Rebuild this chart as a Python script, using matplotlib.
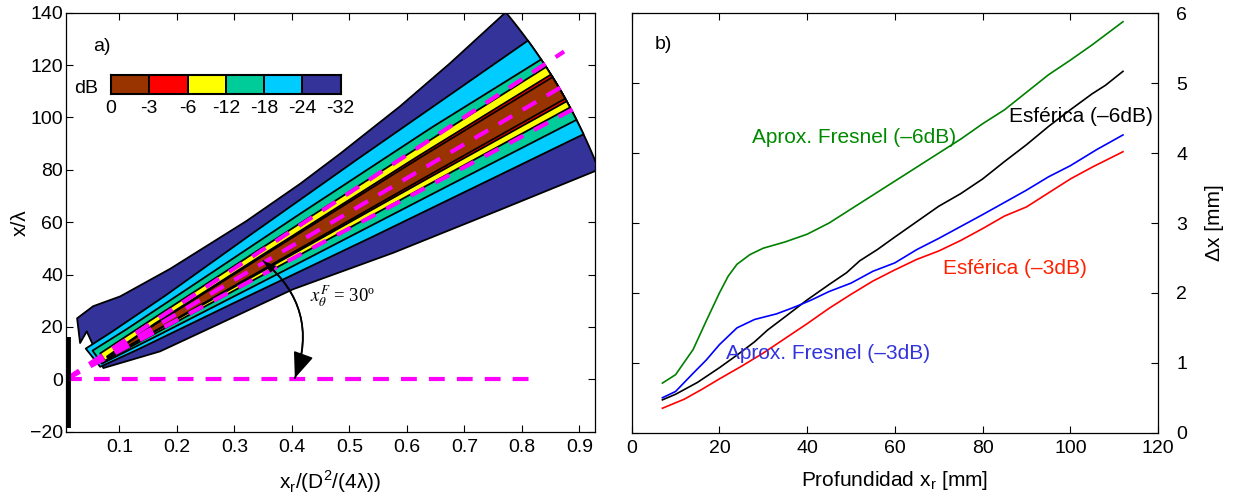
import numpy as np
import matplotlib.pyplot as plt
from matplotlib.patches import FancyArrowPatch
from matplotlib.colors import ListedColormap

plt.rcParams['font.family'] = ['Liberation Sans', 'DejaVu Sans']
plt.rcParams['font.size'] = 14
plt.rcParams['axes.linewidth'] = 0.9

# ---------------- a) campo en dB ----------------
db_labels = ['0', '-3', '-6', '-12', '-18', '-24', '-32']
band_colors = ['#993300', '#FF0000', '#FFFF00', '#00CC99', '#00CCFF', '#333399']

X0 = 0.007        # posicion del transductor en x_r/(D^2/(4 lambda))
SCALE = 220.0     # D^2/(4 lambda) en longitudes de onda
RHO_MAX = 219.0   # alcance maximo calculado (lambda)

# limites de cada banda: [alcance (lambda)], [angulo (grados)]
m32_up = [[23.7, 29.8, 37.9, 58.1, 91.7, 116.7, 135.7, 165, 190.2, 219],
          [79.5, 69.5, 56.7, 46.6, 41.2, 39.8, 39.4, 39.2, 39.4, 39.8]]
m32_lo = [[15, 37.6, 62.8, 93.5, 134.2, 178.3, 218], [16.7, 16.5, 19.9, 21.6, 21.1, 21.3, 21.45]]
m32_left = [[20, 14.9], [66.4, 68.5]]
m24_up = [[14, 25, 50, 90, 140, 219], [57, 46, 40.0, 38.0, 37.0, 36.2]]
m24_lo = [[14, 30, 70, 130, 219], [20, 22.5, 24.4, 24.9, 25.3]]
m18_up = [[15, 30, 60, 110, 170, 219], [47, 39.5, 36.5, 35.2, 34.5, 33.9]]
m18_lo = [[15, 40, 90, 160, 219], [23.5, 25.5, 26.4, 26.8, 26.9]]
m12_up = [[16.5, 40, 90, 160, 219], [37, 34.8, 33.8, 33.3, 33.0]]
m12_lo = [[16.5, 40, 90, 160, 219], [25.5, 27.2, 27.9, 28.2, 28.3]]
m6_up = [[18, 40, 90, 160, 219], [29, 32.0, 32.3, 32.3, 32.1]]
m6_lo = [[18, 40, 90, 160, 219], [27, 28.2, 28.8, 29.0, 29.0]]
m3_up = [[20, 40, 90, 160, 219], [29, 31.6, 32.0, 32.0, 31.8]]
m3_lo = [[20, 40, 90, 160, 219], [27.5, 28.5, 29.1, 29.3, 29.3]]

# ejes de los haces (grados, alcance en lambda)
beam_ang = [33.3, 30.5, 28.0]
beam_len = [228, 223, 223]
horiz_end = 0.818

# ---------------- b) anchura del haz ----------------
green_x = [7, 10, 14, 17, 20, 22, 24, 27, 30, 35, 40, 45, 50, 55, 60, 65, 70, 75, 80, 85, 90, 95, 100, 105, 112]
green_y = [0.71, 0.83, 1.19, 1.6, 2.0, 2.24, 2.41, 2.55, 2.64, 2.73, 2.84, 3.0, 3.2, 3.4, 3.6, 3.8, 4.0, 4.2, 4.42, 4.62, 4.87, 5.12, 5.33, 5.55, 5.88]
black_x = [7, 10, 15, 20, 24, 28, 31, 35, 40, 45, 49, 52, 56, 60, 65, 70, 75, 80, 85, 90, 95, 100, 105, 108, 112]
black_y = [0.47, 0.55, 0.72, 0.93, 1.11, 1.30, 1.47, 1.66, 1.90, 2.12, 2.29, 2.46, 2.62, 2.8, 3.02, 3.24, 3.42, 3.63, 3.88, 4.12, 4.38, 4.62, 4.85, 4.97, 5.17]
blue_x = [7, 10, 14, 17, 20, 24, 28, 33, 36, 38, 41, 45, 50, 55, 60, 65, 70, 75, 80, 86, 90, 95, 100, 106, 112]
blue_y = [0.50, 0.59, 0.85, 1.04, 1.26, 1.50, 1.62, 1.70, 1.77, 1.82, 1.90, 2.02, 2.14, 2.31, 2.43, 2.62, 2.78, 2.95, 3.12, 3.33, 3.47, 3.66, 3.82, 4.05, 4.26]
red_x = [7, 12, 16, 20, 25, 30, 35, 40, 45, 50, 55, 60, 65, 70, 75, 80, 85, 90, 95, 100, 105, 112]
red_y = [0.35, 0.48, 0.62, 0.77, 0.95, 1.14, 1.35, 1.56, 1.78, 1.98, 2.17, 2.33, 2.48, 2.6, 2.75, 2.92, 3.1, 3.23, 3.43, 3.63, 3.8, 4.02]


def polar_to_xy(rho, ang):
    r = np.asarray(rho, float)
    a = np.radians(ang)
    return X0 + r * np.cos(a) / SCALE, r * np.sin(a)


def band_polygon(up, lo, left=None):
    xu, yu = polar_to_xy(*up)
    arc = np.linspace(up[1][-1], lo[1][-1], 30)
    xa, ya = polar_to_xy(np.full_like(arc, RHO_MAX), arc)
    xl, yl = polar_to_xy(*lo)
    px = [xu, xa, xl[::-1]]
    py = [yu, ya, yl[::-1]]
    if left is not None:
        xc, yc = polar_to_xy(*left)
        px.append(xc)
        py.append(yc)
    return np.concatenate(px), np.concatenate(py)


fig = plt.figure(figsize=(12.35, 5.01), dpi=100)
ax = fig.add_axes([0.0532, 0.1383, 0.4286, 0.8363])
ax2 = fig.add_axes([0.5115, 0.1363, 0.4262, 0.8371])

bands = [(m32_up, m32_lo, m32_left), (m24_up, m24_lo, None), (m18_up, m18_lo, None),
         (m12_up, m12_lo, None), (m6_up, m6_lo, None), (m3_up, m3_lo, None)]
for i, (up, lo, left) in enumerate(bands):
    px, py = band_polygon(up, lo, left)
    ax.fill(px, py, facecolor=band_colors[5 - i], edgecolor='k', lw=1.3,
            joinstyle='round', zorder=2 + i)

# ejes de los haces y referencia horizontal
for ang, length in zip(beam_ang, beam_len):
    bx, by = polar_to_xy([0, length], [ang, ang])
    ax.plot(bx, by, color='#FF00FF', lw=3, dashes=(3.8, 2.9), zorder=10)
ax.plot([X0, horiz_end], [0, 0], color='#FF00FF', lw=3, dashes=(3.8, 2.9), zorder=10)

# transductor
ax.plot([0.0115, 0.0115], [-18.5, 16], color='k', lw=4.2, solid_capstyle='butt', zorder=11)

# angulo de deflexion
a_start = polar_to_xy(88, 30.9)
a_end = polar_to_xy(87.6, 0.3)
ax.add_patch(FancyArrowPatch(a_start, a_end, connectionstyle='arc3,rad=-0.35',
                             arrowstyle='-|>,head_length=0.8,head_width=0.32',
                             mutation_scale=20, color='k', lw=1.2,
                             shrinkA=0, shrinkB=0, zorder=12))
ax.add_patch(FancyArrowPatch(a_start, a_end, connectionstyle='arc3,rad=-0.35',
                             arrowstyle='<|-,head_length=0.35,head_width=0.12',
                             mutation_scale=20, color='k', lw=1.2,
                             shrinkA=0, shrinkB=0, zorder=12))
ax.text(0.432, 31.7, r'$x_{\theta}^{F}$ = 30º', family='Liberation Serif',
        math_fontfamily='stix', fontsize=13.5, va='center', ha='left')

ax.text(0.054, 127, 'a)', ha='left', va='center')

ax.set_xlim(0.0068, 0.927)
ax.set_ylim(-20, 140)
ax.set_xticks(np.arange(0.1, 0.91, 0.1))
ax.set_xticklabels(['0.1', '0.2', '0.3', '0.4', '0.5', '0.6', '0.7', '0.8', '0.9'])
ax.set_yticks(np.arange(-20, 141, 20))
ax.tick_params(direction='in', top=True, right=True, length=5, width=0.8)
ax.tick_params(axis='x', pad=5)
ax.tick_params(axis='y', pad=2)
ax.set_xlabel(r'x$_\mathregular{r}$/(D$^\mathregular{2}$/(4λ))', fontsize=15, labelpad=9)
ax.set_ylabel('x/λ', fontsize=15, labelpad=0)

# leyenda de niveles
cax = ax.inset_axes([0.0856, 0.805, 0.434, 0.046])
cax.pcolormesh(np.arange(7), [0, 1], np.arange(6)[None, :],
               cmap=ListedColormap(band_colors), edgecolors='k', linewidth=1.3)
cax.set_xlim(0, 6)
cax.set_xticks(np.arange(7))
cax.set_xticklabels(db_labels)
cax.set_yticks([])
cax.tick_params(length=0, pad=4)
for s in cax.spines.values():
    s.set_linewidth(1.5)
ax.text(0.016, 0.82, 'dB', transform=ax.transAxes, ha='left', va='center')

# ---------------- b) ----------------
ax2.plot(green_x, green_y, color='#008000', lw=1.2)
ax2.plot(black_x, black_y, color='k', lw=1.2)
ax2.plot(blue_x, blue_y, color='#0000FF', lw=1.2)
ax2.plot(red_x, red_y, color='#FF0000', lw=1.2)

ax2.text(27.5, 4.23, 'Aprox. Fresnel (–6dB)', color='#008A00', va='center', fontsize=15)
ax2.text(86.0, 4.52, 'Esférica (–6dB)', color='k', va='center', fontsize=15)
ax2.text(71, 2.35, 'Esférica (–3dB)', color='#FF2200', va='center', fontsize=15)
ax2.text(21.5, 1.14, 'Aprox. Fresnel (–3dB)', color='#3333DD', va='center', fontsize=15)
ax2.text(5.3, 5.55, 'b)', va='center')

ax2.set_xlim(0, 120)
ax2.set_ylim(0, 6)
ax2.set_xticks(np.arange(0, 121, 20))
ax2.set_yticks(np.arange(0, 7, 1))
ax2.tick_params(direction='in', top=True, left=True, right=True,
                labelleft=False, labelright=True, length=5, width=0.8)
ax2.tick_params(axis='x', pad=5)
ax2.tick_params(axis='y', pad=13)
ax2.yaxis.set_label_position('right')
ax2.set_ylabel('Δx [mm]', fontsize=15, labelpad=13)
ax2.set_xlabel(r'Profundidad x$_\mathregular{r}$ [mm]', fontsize=15, labelpad=9)

fig.savefig('out.png', dpi=100)
